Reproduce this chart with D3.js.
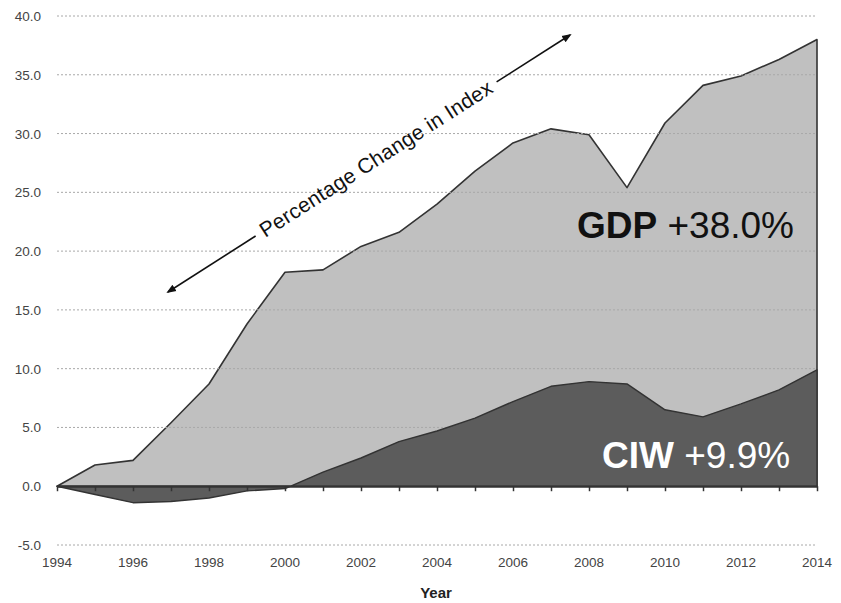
<!DOCTYPE html>
<html>
<head>
<meta charset="utf-8">
<script src="https://cdn.jsdelivr.net/npm/d3@7"></script>
<style>
  body { margin: 0; background: #fff; }
  svg { display: block; font-family: "Liberation Sans", Arial, sans-serif; }
</style>
</head>
<body>
<svg id="chart"></svg>
<script>
// Data
const years = [1994, 1995, 1996, 1997, 1998, 1999, 2000, 2001, 2002, 2003, 2004,
  2005, 2006, 2007, 2008, 2009, 2010, 2011, 2012, 2013, 2014];
const gdp = [0, 1.8, 2.2, 5.4, 8.7, 13.8, 18.2, 18.4, 20.4, 21.6, 24.0,
  26.8, 29.2, 30.4, 29.9, 25.4, 30.9, 34.1, 34.9, 36.3, 38.0];
const ciw = [0, -0.7, -1.4, -1.3, -1.0, -0.4, -0.2, 1.2, 2.4, 3.8, 4.7,
  5.8, 7.2, 8.5, 8.9, 8.7, 6.5, 5.9, 7.0, 8.2, 9.9];
const yTicks = [-5, 0, 5, 10, 15, 20, 25, 30, 35, 40];
const xTickLabels = [1994, 1996, 1998, 2000, 2002, 2004, 2006, 2008, 2010, 2012, 2014];

const dataset = years.map((y, i) => ({ year: y, gdp: gdp[i], ciw: ciw[i] }));

// Chart dimensions
const width = 841, height = 603;
const svg = d3.select("#chart").attr("width", width).attr("height", height);

const xScale = d3.scaleLinear().domain([1994, 2014]).range([57, 817]);
const yScale = d3.scaleLinear().domain([-5, 40]).range([545, 16]);

// GDP area
const gdpArea = d3.area()
  .x((d) => xScale(d.year))
  .y0(yScale(0))
  .y1((d) => yScale(d.gdp));

svg.append("path")
  .datum(dataset)
  .attr("d", gdpArea)
  .attr("fill", "#c0c0c0")
  .attr("stroke", "#333")
  .attr("stroke-width", 1.6)
  .attr("stroke-linejoin", "round");

// Gridlines
svg.append("g")
  .selectAll("line")
  .data(yTicks.filter((t) => t !== 0))
  .enter()
  .append("line")
  .attr("x1", xScale(1994))
  .attr("x2", xScale(2014))
  .attr("y1", (d) => yScale(d))
  .attr("y2", (d) => yScale(d))
  .attr("stroke", "#a8a8a8")
  .attr("stroke-width", 1)
  .attr("stroke-dasharray", "2,2");

// CIW area
const ciwArea = d3.area()
  .x((d) => xScale(d.year))
  .y0(yScale(0))
  .y1((d) => yScale(d.ciw));

svg.append("path")
  .datum(dataset)
  .attr("d", ciwArea)
  .attr("fill", "#5c5c5c")
  .attr("stroke", "#333")
  .attr("stroke-width", 1.4)
  .attr("stroke-linejoin", "round");

// Y axis labels
svg.append("g")
  .selectAll("text")
  .data(yTicks)
  .enter()
  .append("text")
  .attr("x", 41)
  .attr("y", (d) => yScale(d) + 5)
  .attr("text-anchor", "end")
  .attr("font-size", "13.5px")
  .attr("fill", "#444")
  .text((d) => d.toFixed(1));

// Zero axis with year ticks
const xAxis = d3.axisBottom(xScale)
  .tickValues(years)
  .tickSize(5)
  .tickSizeOuter(0)
  .tickFormat("");

const axisG = svg.append("g")
  .attr("transform", `translate(0, ${yScale(0)})`)
  .call(xAxis);
axisG.select(".domain").attr("stroke", "#333").attr("stroke-width", 2);
axisG.selectAll(".tick line").attr("stroke", "#333").attr("stroke-width", 1.5);

// X labels at bottom
svg.append("g")
  .selectAll("text")
  .data(xTickLabels)
  .enter()
  .append("text")
  .attr("x", (d) => xScale(d))
  .attr("y", 567)
  .attr("text-anchor", "middle")
  .attr("font-size", "13.5px")
  .attr("fill", "#444")
  .text((d) => d);

svg.append("text")
  .attr("x", 436)
  .attr("y", 598)
  .attr("text-anchor", "middle")
  .attr("font-size", "15px")
  .attr("font-weight", "bold")
  .attr("fill", "#222")
  .text("Year");

// Series labels
const gdpLabel = svg.append("text")
  .attr("x", 577)
  .attr("y", 238)
  .attr("font-size", "37px")
  .attr("fill", "#111");
gdpLabel.append("tspan").attr("font-weight", "bold").text("GDP");
gdpLabel.append("tspan").text(" +38.0%");

const ciwLabel = svg.append("text")
  .attr("x", 602)
  .attr("y", 468)
  .attr("font-size", "37px")
  .attr("fill", "#fff");
ciwLabel.append("tspan").attr("font-weight", "bold").text("CIW");
ciwLabel.append("tspan").text(" +9.9%");

// Double arrow annotation
const defs = svg.append("defs");
defs.append("marker")
  .attr("id", "arrow")
  .attr("viewBox", "0 0 10 10")
  .attr("refX", 8)
  .attr("refY", 5)
  .attr("markerWidth", 6)
  .attr("markerHeight", 6)
  .attr("orient", "auto")
  .append("path")
  .attr("d", "M0,1 L10,5 L0,9 Z")
  .attr("fill", "#111");

const start = [168, 292], end = [570, 35];
const angle = Math.atan2(end[1] - start[1], end[0] - start[0]) * 180 / Math.PI;
const len = Math.hypot(end[0] - start[0], end[1] - start[1]);

const ann = svg.append("g")
  .attr("transform", `translate(${start[0]}, ${start[1]}) rotate(${angle})`);

ann.append("line")
  .attr("x1", 104).attr("y1", 0).attr("x2", 0).attr("y2", 0)
  .attr("stroke", "#111").attr("stroke-width", 1.6)
  .attr("marker-end", "url(#arrow)");
ann.append("line")
  .attr("x1", 390).attr("y1", 0).attr("x2", len).attr("y2", 0)
  .attr("stroke", "#111").attr("stroke-width", 1.6)
  .attr("marker-end", "url(#arrow)");
ann.append("text")
  .attr("x", 247)
  .attr("y", 7)
  .attr("text-anchor", "middle")
  .attr("font-size", "21px")
  .attr("textLength", 272)
  .attr("fill", "#111")
  .text("Percentage Change in Index");
</script>
</body>
</html>
